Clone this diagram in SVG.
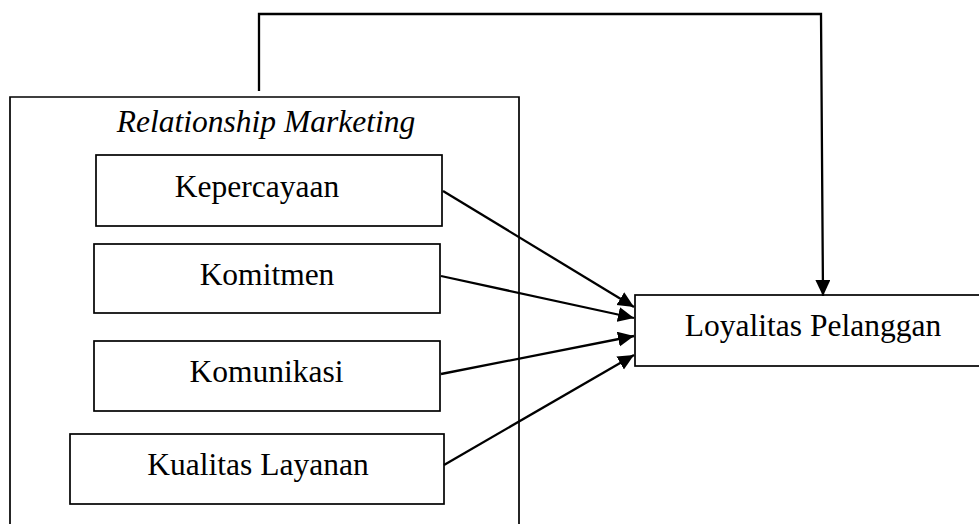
<svg xmlns="http://www.w3.org/2000/svg" width="979" height="524" viewBox="0 0 979 524">
<style>
.box{fill:#fff;stroke:#000;stroke-width:1.7}
.frame{fill:none;stroke:#000;stroke-width:1.7}
.t{font-family:"Liberation Serif","Times New Roman",serif;font-size:31.5px;fill:#000;text-anchor:middle}
.it{font-style:italic}
.c{fill:none;stroke:#000;stroke-width:2.3}
</style>
<defs>
<marker id="ah" markerUnits="userSpaceOnUse" markerWidth="18" markerHeight="16" refX="16" refY="7.5" orient="auto">
<path d="M0,0 L16,7.5 L0,15 z" fill="#000"/>
</marker>
</defs>
<rect width="979" height="524" fill="#fff"/>
<g id="relationship-marketing">
<path class="frame" d="M10,530 V97 H519 V530"/>
<text class="t it" x="266" y="132">Relationship Marketing</text>
</g>
<g id="kepercayaan">
<rect class="box" x="96" y="155" width="346" height="71"/>
<text class="t" x="257" y="197">Kepercayaan</text>
</g>
<g id="komitmen">
<rect class="box" x="94" y="244" width="346" height="69"/>
<text class="t" x="267" y="285">Komitmen</text>
</g>
<g id="komunikasi">
<rect class="box" x="94" y="341" width="346" height="70"/>
<text class="t" x="266.5" y="382">Komunikasi</text>
</g>
<g id="kualitas-layanan">
<rect class="box" x="70" y="434" width="374" height="70"/>
<text class="t" x="258" y="475">Kualitas Layanan</text>
</g>
<g id="loyalitas-pelanggan">
<rect class="box" x="635" y="295" width="360" height="71"/>
<text class="t" x="813" y="336">Loyalitas Pelanggan</text>
</g>
<g id="connectors">
<path class="c" d="M259,91 V14 H821 L823,296" marker-end="url(#ah)"/>
<line class="c" x1="443" y1="191" x2="634" y2="307" marker-end="url(#ah)"/>
<line class="c" x1="441" y1="276" x2="634" y2="318" marker-end="url(#ah)"/>
<line class="c" x1="441" y1="374" x2="634" y2="336" marker-end="url(#ah)"/>
<line class="c" x1="444" y1="465" x2="634" y2="355" marker-end="url(#ah)"/>
</g>
</svg>
